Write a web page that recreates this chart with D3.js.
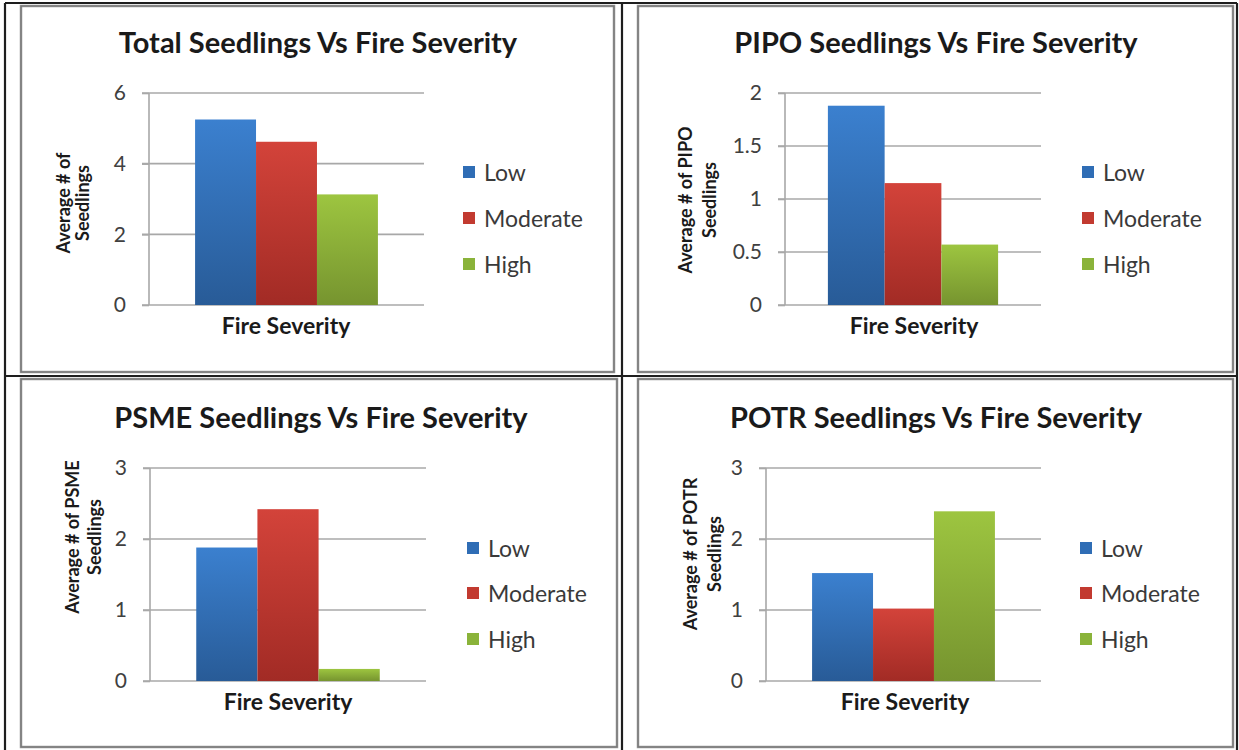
<!DOCTYPE html>
<html>
<head>
<meta charset="utf-8">
<script src="https://cdn.jsdelivr.net/npm/d3@7"></script>
<style>
  html, body { margin: 0; padding: 0; background: #ffffff; }
  svg { display: block; }
  text { font-family: Lato, "Open Sans", sans-serif; }
</style>
</head>
<body>
<svg id="chart" width="1239" height="750"></svg>
<script>
// ---------------- data ----------------
const categories = ["Fire Severity"];
const seriesNames = ["Low", "Moderate", "High"];

const totalValues = [5.25, 4.62, 3.13];
const pipoValues  = [1.88, 1.15, 0.57];
const psmeValues  = [1.88, 2.42, 0.17];
const potrValues  = [1.52, 1.02, 2.39];

const totalTicks = [0, 2, 4, 6];
const pipoTicks  = [0, 0.5, 1, 1.5, 2];
const psmeTicks  = [0, 1, 2, 3];
const potrTicks  = [0, 1, 2, 3];

const chartTitles = [
  "Total Seedlings Vs Fire Severity",
  "PIPO Seedlings Vs Fire Severity",
  "PSME Seedlings Vs Fire Severity",
  "POTR Seedlings Vs Fire Severity"
];
const yTitles = [
  ["Average # of", "Seedlings"],
  ["Average # of PIPO", "Seedlings"],
  ["Average # of PSME", "Seedlings"],
  ["Average # of POTR", "Seedlings"]
];
const xTitle = "Fire Severity";

// ---------------- layout (positions / styles) ----------------
const seriesTop    = ["#3b80cf", "#d3433a", "#9dc540"];
const seriesBottom = ["#285b97", "#a22b25", "#76942f"];
const legendColors = ["#2f6db5", "#c23a30", "#8ab33a"];

const panels = [
  { values: totalValues, ticks: totalTicks,
    frame: [21, 6, 614, 372], plot: { l: 149, r: 424, t: 93, b: 305 },
    title: [318, 53], yT: { x: [63, 82], y: 203 }, xT: [286, 334],
    legend: { sx: 463, tx: 484, y: [172, 218, 264] } },
  { values: pipoValues, ticks: pipoTicks,
    frame: [638, 6, 1233, 372], plot: { l: 785, r: 1041, t: 93, b: 305 },
    title: [936, 53], yT: { x: [685, 709], y: 200 }, xT: [914, 334],
    legend: { sx: 1082, tx: 1103, y: [172, 218, 264] } },
  { values: psmeValues, ticks: psmeTicks,
    frame: [21, 379, 617, 747], plot: { l: 150, r: 426, t: 468, b: 681 },
    title: [321, 428], yT: { x: [72, 94], y: 537 }, xT: [288, 710],
    legend: { sx: 467, tx: 488, y: [548, 593, 639] } },
  { values: potrValues, ticks: potrTicks,
    frame: [638, 379, 1233, 747], plot: { l: 766, r: 1041, t: 468, b: 681 },
    title: [936, 428], yT: { x: [690, 714], y: 554 }, xT: [905, 710],
    legend: { sx: 1080, tx: 1101, y: [548, 593, 639] } }
];

const svg = d3.select("#chart");
const defs = svg.append("defs");
seriesNames.forEach((s, i) => {
  const g = defs.append("linearGradient").attr("id", "grad" + i)
    .attr("x1", 0).attr("y1", 0).attr("x2", 0).attr("y2", 1);
  g.append("stop").attr("offset", "0%").attr("stop-color", seriesTop[i]);
  g.append("stop").attr("offset", "100%").attr("stop-color", seriesBottom[i]);
});

// panel frames (gray)
panels.forEach(p => {
  const [x0, y0, x1, y1] = p.frame;
  svg.append("rect").attr("x", x0).attr("y", y0).attr("width", x1 - x0).attr("height", y1 - y0)
    .attr("fill", "none").attr("stroke", "#9a9a9a").attr("stroke-width", 2.5);
  svg.append("rect").attr("x", x0).attr("y", y0).attr("width", x1 - x0).attr("height", y1 - y0)
    .attr("fill", "none").attr("stroke", "#6e6e6e").attr("stroke-width", 1);
});

// table black lines
const black = "#1e1e1e";
[[5, 3, 5, 750], [1237, 3, 1237, 750], [5, 3, 1237, 3], [622, 3, 622, 750], [5, 376, 1237, 376]]
  .forEach(([x1, y1, x2, y2]) => svg.append("line").attr("x1", x1).attr("y1", y1).attr("x2", x2).attr("y2", y2)
    .attr("stroke", black).attr("stroke-width", 2.2));

// charts
panels.forEach((p, pi) => {
  const g = svg.append("g");
  const y = d3.scaleLinear().domain([p.ticks[0], p.ticks[p.ticks.length - 1]]).range([p.plot.b, p.plot.t]);
  const x0 = d3.scaleBand().domain(categories).range([p.plot.l, p.plot.r]).paddingInner(0).paddingOuter(0.252);
  const x1 = d3.scaleBand().domain(seriesNames).range([0, x0.bandwidth()]).padding(0);

  // gridlines
  g.append("g").selectAll("line").data(p.ticks).join("line")
    .attr("x1", p.plot.l - 7).attr("x2", p.plot.r)
    .attr("y1", d => y(d)).attr("y2", d => y(d))
    .attr("stroke", "#a8a8a8").attr("stroke-width", 1.6);

  // bars
  const data = seriesNames.map((s, i) => ({ s, i, v: p.values[i] }));
  g.append("g").selectAll("rect").data(data).join("rect")
    .attr("x", d => x0(categories[0]) + x1(d.s))
    .attr("y", d => y(d.v))
    .attr("width", x1.bandwidth())
    .attr("height", d => y(0) - y(d.v))
    .attr("fill", d => "url(#grad" + d.i + ")");

  // y axis
  const ax = g.append("g").attr("transform", `translate(${p.plot.l},0)`)
    .call(d3.axisLeft(y).tickValues(p.ticks).tickSize(7).tickPadding(16).tickFormat(d3.format("")));
  ax.select(".domain").attr("stroke", "#a8a8a8").attr("stroke-width", 1.6)
    .attr("d", `M0,${p.plot.t}V${p.plot.b}`);
  ax.selectAll(".tick line").attr("stroke", "#a8a8a8").attr("stroke-width", 1.6);
  ax.selectAll(".tick text").attr("fill", "#404040").attr("font-size", 21)
    .style("font-family", "Lato, sans-serif");

  // title
  g.append("text").attr("x", p.title[0]).attr("y", p.title[1])
    .attr("text-anchor", "middle").attr("font-size", 29).attr("font-weight", "bold")
    .attr("fill", "#1a1a1a").text(chartTitles[pi]);

  // x title
  g.append("text").attr("x", p.xT[0]).attr("y", p.xT[1])
    .attr("text-anchor", "middle").attr("font-size", 23).attr("font-weight", "bold")
    .attr("fill", "#1a1a1a").text(xTitle);

  // y title (rotated, two lines)
  yTitles[pi].forEach((t, li) => {
    g.append("text")
      .attr("transform", `translate(${p.yT.x[li]},${p.yT.y}) rotate(-90)`)
      .attr("text-anchor", "middle").attr("dominant-baseline", "central")
      .attr("font-size", 18).attr("font-weight", "bold").attr("fill", "#1a1a1a").text(t);
  });

  // legend
  const lg = g.append("g");
  seriesNames.forEach((s, i) => {
    lg.append("rect").attr("x", p.legend.sx).attr("y", p.legend.y[i] - 6)
      .attr("width", 12).attr("height", 12).attr("fill", legendColors[i]);
    lg.append("text").attr("x", p.legend.tx).attr("y", p.legend.y[i])
      .attr("dominant-baseline", "central").attr("font-size", 23)
      .attr("fill", "#3a3a3a").text(s);
  });
});
</script>
</body>
</html>
